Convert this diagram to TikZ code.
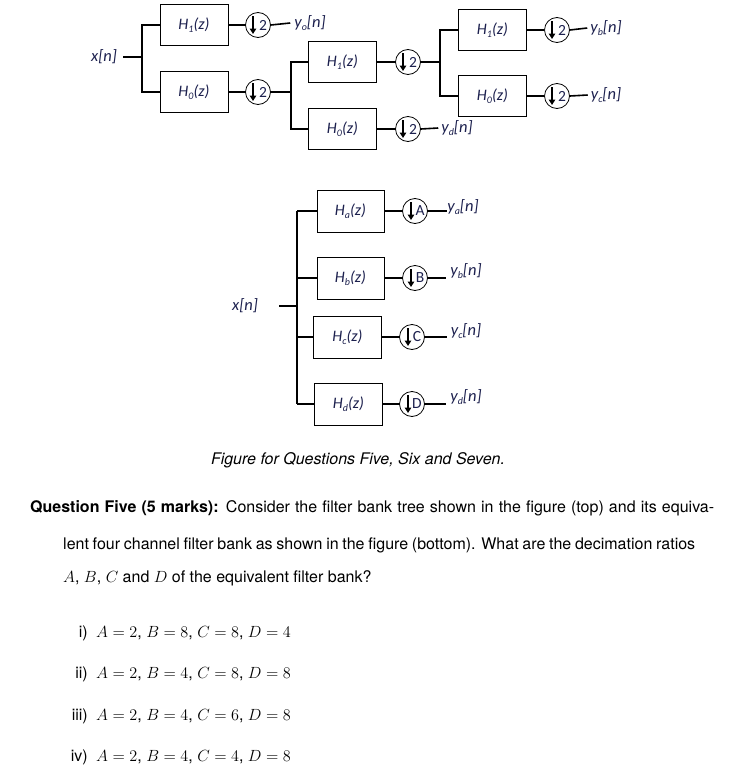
\RequirePackage{fix-cm}
\documentclass[tikz,border=0pt]{standalone}
\usepackage{fontspec}
\setmainfont{TeX Gyre Heros}
\newfontfamily\diafont{Carlito}
\usetikzlibrary{arrows.meta}
\definecolor{labcol}{RGB}{28,32,78}
\newcommand\lowsub[1]{\raisebox{-0.35ex}{\fontsize{10}{10}\selectfont #1}}
\newcommand\Hz[1]{H\lowsub{#1}(z)}
\newcommand\optmath[1]{{\fontsize{16.2}{18}\selectfont$#1$}}
\begin{document}
\begin{tikzpicture}[x=1pt,y=-1pt,
  wire/.style={line width=1.6pt, black},
  fbox/.style={draw=black, line width=0.8pt, minimum width=68pt, minimum height=41pt, inner sep=0pt,
    font=\diafont\itshape\fontsize{16}{16}\selectfont, text=labcol},
  dcirc/.style={draw=black, line width=0.8pt, circle, minimum size=25pt, inner sep=0pt},
  darrow/.style={line width=1.8pt, -{Triangle[length=5.5pt,width=6.5pt]}},
  dlab/.style={font=\diafont\fontsize{15.5}{15.5}\selectfont, text=labcol, inner sep=0pt},
  sig/.style={font=\diafont\itshape\fontsize{16.5}{16.5}\selectfont, text=labcol, inner sep=0pt},
  body/.style={font=\fontsize{16}{18}\selectfont, inner sep=0pt, anchor=west}
]
\useasboundingbox (0,0) rectangle (745,779);
\newcommand\down[5]{%
  \node[dcirc] (#1) at (#2,#3) {};
  \draw[darrow] ([xshift=#5pt,yshift=9pt]#1.center) -- ([xshift=#5pt,yshift=-9pt]#1.center);
  \node[dlab] at ([xshift=5pt]#1.center) {#4};}

%% ---------------- top tree ----------------
\node[sig] (x1) at (104,57) {x[n]};
\coordinate (j1) at (142,57);
\node[fbox] (t1) at (194,25) {\Hz{1}};
\node[fbox] (t0) at (194,92) {\Hz{0}};
\down{d1}{258}{25}{2}{-5}
\down{d2}{258}{92}{2}{-5}
\node[sig] (yo) at (310,23) {y\lowsub{o}[n]};
\coordinate (j2) at (291,92);
\node[fbox] (s1) at (342.5,62) {\Hz{1}};
\node[fbox] (s0) at (342.5,129) {\Hz{0}};
\down{d3}{408}{62}{2}{-5}
\down{d4}{408}{129}{2}{-5}
\node[sig] (yd) at (457,128) {y\lowsub{d}[n]};
\coordinate (j3) at (440,62);
\node[fbox] (r1) at (492.5,30) {\Hz{1}};
\node[fbox] (r0) at (492.5,96) {\Hz{0}};
\down{d5}{557}{30}{2}{-5}
\down{d6}{557}{96}{2}{-5}
\node[sig] (yb) at (606,28) {y\lowsub{b}[n]};
\node[sig] (yc) at (606,95) {y\lowsub{c}[n]};

\draw[wire] ([xshift=6pt]x1.east) -- (j1);
\draw[wire] (j1) |- (t1.west);
\draw[wire] (j1) |- (t0.west);
\draw[wire] (t1.east) -- (d1.west);
\draw[wire] (t0.east) -- (d2.west);
\draw[wire] (d1.east) -- ([xshift=-4pt]yo.west);
\draw[wire] (d2.east) -- (j2);
\draw[wire] (j2) |- (s1.west);
\draw[wire] (j2) |- (s0.west);
\draw[wire] (s1.east) -- (d3.west);
\draw[wire] (s0.east) -- (d4.west);
\draw[wire] (d4.east) -- ([xshift=-3pt]yd.west);
\draw[wire] (d3.east) -- (j3);
\draw[wire] (j3) |- (r1.west);
\draw[wire] (j3) |- (r0.west);
\draw[wire] (r1.east) -- (d5.west);
\draw[wire] (r0.east) -- (d6.west);
\draw[wire] (d5.east) -- ([xshift=-3pt]yb.west);
\draw[wire] (d6.east) -- ([xshift=-3pt]yc.west);

%% ---------------- bottom bank ----------------
\node[sig] (x2) at (245,306) {x[n]};
\coordinate (k1) at (279,306);
\coordinate (kt) at (297,211);
\coordinate (kb) at (297,404);
\node[fbox, minimum width=67pt, minimum height=42pt] (ha) at (350.5,211) {H\lowsub{a}(z)};
\node[fbox, minimum width=67pt, minimum height=42pt] (hb) at (350.5,278) {H\lowsub{b}(z)};
\node[fbox, minimum width=68pt, minimum height=42pt] (hc) at (347.5,337) {H\lowsub{c}(z)};
\node[fbox, minimum width=68pt, minimum height=42pt] (hd) at (348.5,404) {H\lowsub{d}(z)};
\down{da}{415}{211}{A}{-4}
\down{db}{415}{278}{B}{-4}
\down{dc}{412}{337}{C}{-4}
\down{dd}{412}{404}{D}{-4}
\node[sig] (ya) at (463,207) {y\lowsub{a}[n]};
\node[sig] (yb2) at (466,271) {y\lowsub{b}[n]};
\node[sig] (yc2) at (466,331) {y\lowsub{c}[n]};
\node[sig] (yd2) at (466,397) {y\lowsub{d}[n]};

\draw[wire] (k1) -- (kt |- k1);
\draw[wire] (kt) -- (kb);
\draw[wire] (kt |- ha.west) -- (ha.west);
\draw[wire] (kt |- hb.west) -- (hb.west);
\draw[wire] (kt |- hc.west) -- (hc.west);
\draw[wire] (kt |- hd.west) -- (hd.west);
\draw[wire] (ha.east) -- (da.west);
\draw[wire] (hb.east) -- (db.west);
\draw[wire] (hc.east) -- (dc.west);
\draw[wire] (hd.east) -- (dd.west);
\draw[wire] (da.east) -- (ya.west |- da.east);
\draw[wire] (db.east) -- ([xshift=-4pt]yb2.west |- db.east);
\draw[wire] (dc.east) -- ([xshift=-4pt]yc2.west |- dc.east);
\draw[wire] (dd.east) -- ([xshift=-4pt]yd2.west |- dd.east);

%% ---------------- text ----------------
\node[body, anchor=center, font=\itshape\fontsize{16}{18}\selectfont] (cap) at (358,460)
  {Figure for Questions Five, Six and Seven.};
\node[body] (q1) at (30,508) {\makebox[684pt][s]{\textbf{Question Five (5 marks):} Consider the filter bank tree shown in the figure (top) and its equiva-}};
\node[body] (q2) at (63,545) {\makebox[632pt][s]{lent four channel filter bank as shown in the figure (bottom). What are the decimation ratios}};
\node[body] (q3) at (63,578) {\optmath{A}, \optmath{B}, \optmath{C} and \optmath{D} of the equivalent filter bank?};

\node[body, anchor=east] (l1) at (88,633) {i)};
\node[body] (o1) at (96,633) {\optmath{A=2}, \optmath{B=8}, \optmath{C=8}, \optmath{D=4}};
\node[body, anchor=east] (l2) at (88,674) {ii)};
\node[body] (o2) at (96,674) {\optmath{A=2}, \optmath{B=4}, \optmath{C=8}, \optmath{D=8}};
\node[body, anchor=east] (l3) at (88,716) {iii)};
\node[body] (o3) at (96,716) {\optmath{A=2}, \optmath{B=4}, \optmath{C=6}, \optmath{D=8}};
\node[body, anchor=east] (l4) at (88,757) {iv)};
\node[body] (o4) at (96,757) {\optmath{A=2}, \optmath{B=4}, \optmath{C=4}, \optmath{D=8}};
\end{tikzpicture}
\end{document}
